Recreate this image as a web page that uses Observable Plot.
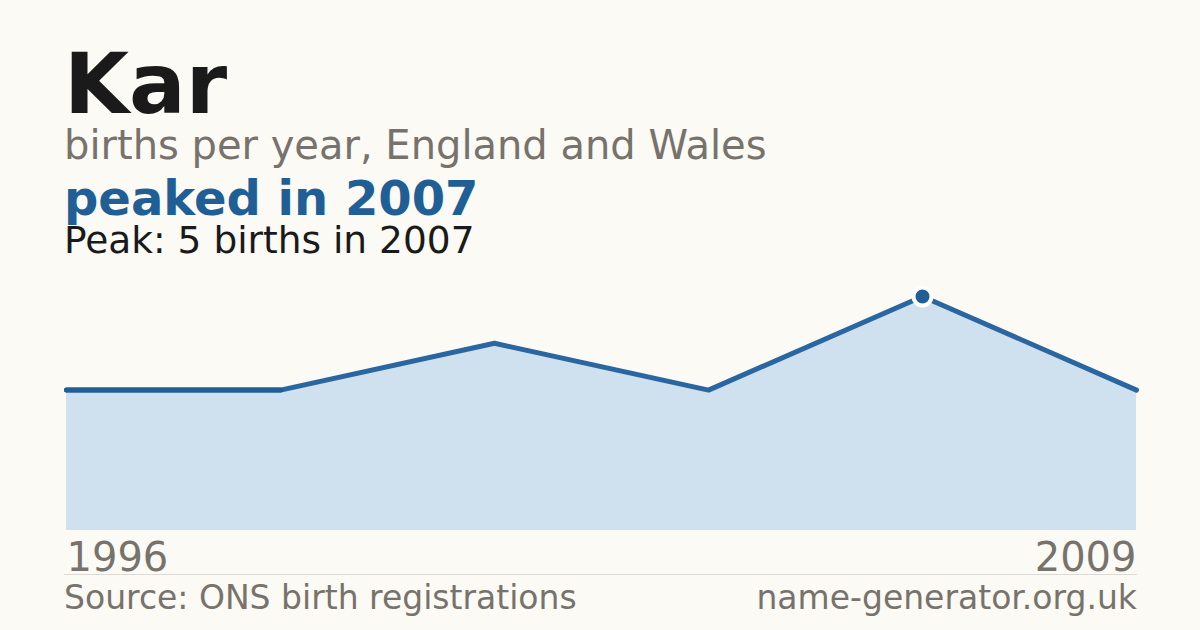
<!DOCTYPE html>
<html>
<head>
<meta charset="utf-8">
<script src="https://cdn.jsdelivr.net/npm/d3@7"></script>
<script src="https://cdn.jsdelivr.net/npm/@observablehq/plot@0.6"></script>
<style>
  html, body { margin: 0; padding: 0; background: #fbfaf5; }
  #wrap { position: relative; width: 1200px; height: 630px; overflow: hidden; font-family: "DejaVu Sans", sans-serif; background: #fbfaf5; }
  .t { position: absolute; left: 64px; white-space: nowrap; line-height: 1; margin: 0; }
  #title { top: 42px; font-size: 84px; font-weight: bold; color: #1a1a1a; }
  #sub { top: 125px; font-size: 40px; color: #77736c; }
  #peaked { top: 173.5px; font-size: 48px; font-weight: bold; color: #1f5f96; }
  #peak { top: 222px; font-size: 37.5px; color: #1a1a1a; }
  #chart { position: absolute; left: 0; top: 260px; }
  #sep { position: absolute; left: 64px; top: 574px; width: 1073px; height: 1px; background: #dcdad3; }
  .foot { position: absolute; top: 581px; font-size: 33px; line-height: 1; color: #77736c; white-space: nowrap; }
  #src { left: 64px; }
  #site { right: 63px; }
</style>
</head>
<body>
<div id="wrap">
  <div class="t" id="title">Kar</div>
  <div class="t" id="sub">births per year, England and Wales</div>
  <div class="t" id="peaked">peaked in 2007</div>
  <div class="t" id="peak">Peak: 5 births in 2007</div>
  <div id="chart"></div>
  <div id="sep"></div>
  <div class="foot" id="src">Source: ONS birth registrations</div>
  <div class="foot" id="site">name-generator.org.uk</div>
</div>
<script>
const years = [1996, 1998, 2001, 2004, 2007, 2009];
const births = [3, 3, 4, 3, 5, 3];
const peakYear = 2007;
const tickYears = [1996, 2009];

const data = years.map((y, i) => ({year: y, births: births[i]}));
const peak = data.filter(d => d.year === peakYear);

const plot = Plot.plot({
  width: 1200,
  height: 320,
  marginLeft: 64,
  marginRight: 63,
  marginTop: 36,
  marginBottom: 50,
  style: {background: "transparent", fontFamily: "DejaVu Sans", overflow: "visible"},
  x: {type: "point", domain: years, padding: 0, axis: null},
  y: {domain: [0, 5], axis: null},
  marks: [
    Plot.areaY(data, {x: "year", y: "births", fill: "#cfe0ef"}),
    Plot.lineY(data, {x: "year", y: "births", stroke: "#2a66a0", strokeWidth: 5, strokeLinejoin: "miter"}),
    Plot.lineY(data.slice(0, 2), {x: "year", y: "births", stroke: "#1f5f96", strokeWidth: 5}),
    Plot.dot(peak, {x: "year", y: "births", r: 9, fill: "#1f5f96", stroke: "#ffffff", strokeWidth: 4}),
    Plot.text([tickYears[0]], {x: d => d, y: 0, text: d => String(d), textAnchor: "start", lineAnchor: "bottom", dy: 40, fontSize: 40, fill: "#77736c"}),
    Plot.text([tickYears[1]], {x: d => d, y: 0, text: d => String(d), textAnchor: "end", lineAnchor: "bottom", dy: 40, fontSize: 40, fill: "#77736c"})
  ]
});
document.getElementById("chart").appendChild(plot);
</script>
</body>
</html>
